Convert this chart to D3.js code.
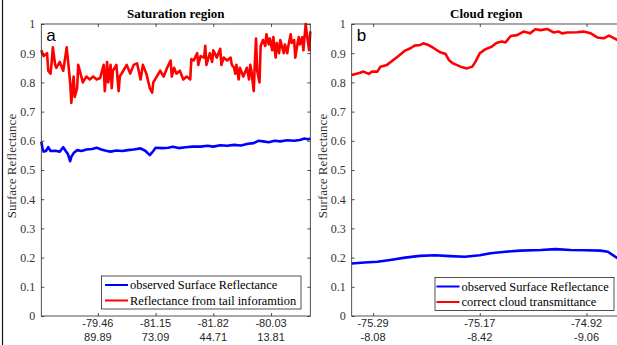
<!DOCTYPE html>
<html>
<head>
<meta charset="utf-8">
<script src="https://cdn.jsdelivr.net/npm/d3@7/dist/d3.min.js"></script>
<style>
  body { margin: 0; background: #fff; }
  svg { display: block; }
</style>
</head>
<body>
<svg id="chart" width="617" height="345"></svg>
<script>
const yTicks = [0, 0.1, 0.2, 0.3, 0.4, 0.5, 0.6, 0.7, 0.8, 0.9, 1];

// saturation region (panel a)
const satTickPos = [50, 100, 150, 200];
const satTickLon = ["-79.46", "-81.15", "-81.82", "-80.03"];
const satTickLat = ["89.89", "73.09", "44.71", "13.81"];

const satRedX = [1, 3, 6, 7, 9, 10, 11, 13, 14, 17, 20, 23, 24, 26, 27, 29, 30, 32, 33, 35,
  37, 40, 43, 46, 49, 52, 55, 56, 58, 59, 61, 62, 63, 66, 68, 69, 72, 75, 78, 81,
  84, 87, 89, 92, 95, 97, 98, 101, 104, 107, 110, 113, 114, 116, 118, 121, 124, 127, 130, 131,
  133, 136, 137, 139, 142, 143, 144, 147, 149, 150, 153, 156, 157, 159, 162, 165, 166, 168, 169, 170,
  172, 173, 176, 179, 181, 182, 183, 185, 186, 187, 188, 190, 191, 193, 195, 196, 198, 199, 201, 202,
  204, 205, 207, 208, 210, 211, 212, 214, 215, 217, 218, 220, 221, 223, 224, 225, 227, 228, 230, 231,
  233, 234];
const satRed = [0.91, 0.89, 0.9, 0.84, 0.83, 0.87, 0.92, 0.86, 0.85, 0.87, 0.84, 0.92, 0.88, 0.8, 0.73, 0.82, 0.75, 0.78, 0.86, 0.83,
  0.8, 0.82, 0.81, 0.82, 0.81, 0.815, 0.86, 0.77, 0.87, 0.8, 0.86, 0.78, 0.84, 0.86, 0.77, 0.82, 0.84, 0.86, 0.83, 0.86,
  0.865, 0.81, 0.86, 0.83, 0.78, 0.765, 0.8, 0.82, 0.84, 0.82, 0.85, 0.875, 0.82, 0.85, 0.83, 0.84, 0.81, 0.82, 0.81, 0.88,
  0.875, 0.9, 0.86, 0.89, 0.885, 0.925, 0.86, 0.9, 0.87, 0.91, 0.885, 0.915, 0.86, 0.885, 0.875, 0.885, 0.86, 0.85, 0.83, 0.86,
  0.81, 0.85, 0.82, 0.85, 0.81, 0.86, 0.84, 0.77, 0.87, 0.95, 0.84, 0.8, 0.925, 0.945, 0.925, 0.965, 0.93, 0.95, 0.91, 0.955,
  0.885, 0.935, 0.9, 0.945, 0.915, 0.9, 0.93, 0.9, 0.925, 0.965, 0.935, 0.945, 0.885, 0.935, 0.955, 0.93, 0.955, 0.91, 1.0, 0.965,
  0.91, 0.975];

const satBlueX = [1, 2, 3, 5, 7, 9, 13, 17, 20, 22, 24, 26, 27, 29, 32, 36, 40, 45, 49, 53,
  57, 61, 66, 71, 76, 81, 87, 91, 95, 98, 100, 106, 111, 115, 120, 126, 132, 139, 145, 150,
  156, 162, 168, 174, 180, 185, 189, 193, 198, 203, 208, 214, 220, 225, 229, 232, 234];
const satBlue = [0.597, 0.575, 0.563, 0.565, 0.578, 0.565, 0.566, 0.563, 0.578, 0.566, 0.555, 0.53, 0.545, 0.558, 0.568, 0.565, 0.57, 0.572, 0.576, 0.57,
  0.566, 0.563, 0.567, 0.565, 0.568, 0.57, 0.574, 0.566, 0.551, 0.565, 0.576, 0.575, 0.576, 0.58, 0.575, 0.578, 0.58, 0.58, 0.583, 0.58,
  0.585, 0.583, 0.586, 0.584, 0.59, 0.592, 0.6, 0.598, 0.595, 0.6, 0.598, 0.602, 0.6, 0.603, 0.608, 0.605, 0.607];

// cloud region (panel b)
const cloudTickPos = [20, 120, 220];
const cloudTickLon = ["-75.29", "-75.17", "-74.92"];
const cloudTickLat = ["-8.08", "-8.42", "-9.06"];

const cloudRedX = [0, 8, 11, 16, 19, 24, 27, 33, 39, 45, 50, 55, 59, 64, 67, 72, 77, 83, 88, 91,
  95, 102, 108, 113, 116, 120, 125, 131, 136, 141, 144, 149, 155, 161, 167, 172, 177, 183, 189, 194,
  197, 202, 211, 217, 224, 230, 236, 241, 246, 249, 252];
const cloudRed = [0.825, 0.833, 0.837, 0.829, 0.837, 0.837, 0.854, 0.86, 0.877, 0.894, 0.909, 0.917, 0.926, 0.928, 0.934, 0.928, 0.917, 0.903, 0.897, 0.877,
  0.865, 0.854, 0.848, 0.854, 0.871, 0.9, 0.913, 0.922, 0.936, 0.94, 0.937, 0.959, 0.962, 0.974, 0.968, 0.982, 0.979, 0.983, 0.971, 0.974,
  0.968, 0.971, 0.972, 0.974, 0.968, 0.954, 0.951, 0.96, 0.951, 0.945, 0.943];

const cloudBlueX = [0, 12, 24, 36, 50, 64, 78, 92, 106, 120, 130, 144, 158, 177, 191, 205, 219, 233, 240, 244,
  249, 252];
const cloudBlue = [0.18, 0.183, 0.186, 0.192, 0.2, 0.206, 0.208, 0.205, 0.203, 0.208, 0.215, 0.22, 0.224, 0.226, 0.229, 0.226, 0.225, 0.224, 0.22, 0.21,
  0.198, 0.192];

const svg = d3.select("#chart");
const serif = "'Liberation Serif', 'Times New Roman', serif";
const sans = "'Liberation Sans', Arial, sans-serif";
const axisColor = "#262626";
const plotW = 269;
const plotTop = 24;
const plotBottom = 316;

// thin frame line at the very left of the figure
svg
  .append("line")
  .attr("x1", 2.5)
  .attr("x2", 2.5)
  .attr("y1", 0)
  .attr("y2", 345)
  .attr("stroke", "#111")
  .attr("stroke-width", 1.2);

function drawPanel(opt) {
  const x = d3
    .scaleLinear()
    .domain(opt.domain)
    .range([opt.left, opt.left + plotW]);
  const y = d3.scaleLinear().domain([0, 1]).range([plotBottom, plotTop]);

  const g = svg.append("g");

  const line = d3
    .line()
    .x((d) => x(d[0]))
    .y((d) => y(d[1]));

  g.append("path")
    .attr("d", line(d3.zip(opt.blueX, opt.blue)))
    .attr("fill", "none")
    .attr("stroke", "#0000ff")
    .attr("stroke-width", 2.6)
    .attr("stroke-linejoin", "round");

  g.append("path")
    .attr("d", line(d3.zip(opt.redX, opt.red)))
    .attr("fill", "none")
    .attr("stroke", "#ff0000")
    .attr("stroke-width", 2.6)
    .attr("stroke-linejoin", "round");

  // box
  g.append("rect")
    .attr("x", opt.left)
    .attr("y", plotTop)
    .attr("width", plotW)
    .attr("height", plotBottom - plotTop)
    .attr("fill", "none")
    .attr("stroke", axisColor)
    .attr("stroke-width", 0.8);

  // left axis with labels
  const yAxis = g
    .append("g")
    .attr("transform", `translate(${opt.left},0)`)
    .call(
      d3.axisLeft(y).tickValues(yTicks).tickSizeInner(-3).tickSizeOuter(0)
        .tickPadding(6).tickFormat(d3.format("~g"))
    );
  yAxis.select(".domain").remove();
  yAxis.selectAll("line").attr("stroke", axisColor).attr("stroke-width", 0.8);
  yAxis.selectAll("text")
    .attr("font-family", serif)
    .attr("font-size", 12)
    .attr("fill", "#333");

  // right ticks
  const yAxisR = g
    .append("g")
    .attr("transform", `translate(${opt.left + plotW},0)`)
    .call(d3.axisRight(y).tickValues(yTicks).tickSizeInner(-3).tickSizeOuter(0).tickFormat(""));
  yAxisR.select(".domain").remove();
  yAxisR.selectAll("line").attr("stroke", axisColor).attr("stroke-width", 0.8);

  // top ticks
  const xAxisT = g
    .append("g")
    .attr("transform", `translate(0,${plotTop})`)
    .call(d3.axisTop(x).tickValues(opt.tickPos).tickSizeInner(-3).tickSizeOuter(0).tickFormat(""));
  xAxisT.select(".domain").remove();
  xAxisT.selectAll("line").attr("stroke", axisColor).attr("stroke-width", 0.8);

  // bottom ticks with two-line labels
  const xAxis = g
    .append("g")
    .attr("transform", `translate(0,${plotBottom})`)
    .call(d3.axisBottom(x).tickValues(opt.tickPos).tickSizeInner(-3).tickSizeOuter(0).tickFormat(""));
  xAxis.select(".domain").remove();
  xAxis.selectAll("line").attr("stroke", axisColor).attr("stroke-width", 0.8);

  const lab = g
    .append("g")
    .selectAll("text")
    .data(opt.tickPos)
    .join("text")
    .attr("text-anchor", "middle")
    .attr("font-family", sans)
    .attr("font-size", 11)
    .attr("fill", "#262626");
  lab.append("tspan")
    .attr("x", (d) => x(d))
    .attr("y", 327)
    .text((d, i) => opt.lon[i]);
  lab.append("tspan")
    .attr("x", (d) => x(d))
    .attr("y", 341)
    .text((d, i) => opt.lat[i]);

  // title
  g.append("text")
    .attr("x", opt.left + plotW / 2)
    .attr("y", 18)
    .attr("text-anchor", "middle")
    .attr("font-family", serif)
    .attr("font-weight", "bold")
    .attr("font-size", 13)
    .attr("fill", "#000")
    .text(opt.title);

  // y label
  g.append("text")
    .attr("transform", `translate(${opt.left - 25},${(plotTop + plotBottom) / 2 - 4}) rotate(-90)`)
    .attr("text-anchor", "middle")
    .attr("font-family", serif)
    .attr("font-size", 13)
    .attr("fill", "#333")
    .text("Surface Reflectance");

  // panel letter
  g.append("text")
    .attr("x", opt.left + 5)
    .attr("y", 41)
    .attr("font-family", sans)
    .attr("font-size", 17)
    .attr("fill", "#000")
    .text(opt.letter);

  // legend
  const lg = g.append("g");
  lg.append("rect")
    .attr("x", opt.legend.x)
    .attr("y", opt.legend.y)
    .attr("width", opt.legend.w)
    .attr("height", 33)
    .attr("fill", "#fff")
    .attr("stroke", axisColor)
    .attr("stroke-width", 0.8);
  const items = [
    { label: opt.legendLabels[0], color: "#0000ff" },
    { label: opt.legendLabels[1], color: "#ff0000" },
  ];
  items.forEach((it, i) => {
    const cy = opt.legend.y + 9 + i * 15.5;
    lg.append("line")
      .attr("x1", opt.legend.x + opt.legend.pad)
      .attr("x2", opt.legend.x + opt.legend.pad + 23)
      .attr("y1", cy)
      .attr("y2", cy)
      .attr("stroke", it.color)
      .attr("stroke-width", 2);
    lg.append("text")
      .attr("x", opt.legend.x + opt.legend.pad + 25)
      .attr("y", cy + 4)
      .attr("font-family", serif)
      .attr("font-size", 12.4)
      .attr("fill", "#000")
      .text(it.label);
  });
}

drawPanel({
  left: 41.3,
  domain: [1, 234],
  title: "Saturation region",
  letter: "a",
  tickPos: satTickPos,
  lon: satTickLon,
  lat: satTickLat,
  redX: satRedX,
  red: satRed,
  blueX: satBlueX,
  blue: satBlue,
  legend: { x: 101.5, y: 276, w: 199.5, pad: 3.5 },
  legendLabels: ["observed Surface Reflectance", "Reflectance from tail inforamtion"],
});

drawPanel({
  left: 351.7,
  domain: [0, 252],
  title: "Cloud region",
  letter: "b",
  tickPos: cloudTickPos,
  lon: cloudTickLon,
  lat: cloudTickLat,
  redX: cloudRedX,
  red: cloudRed,
  blueX: cloudBlueX,
  blue: cloudBlue,
  legend: { x: 435, y: 277.5, w: 179, pad: 1.5 },
  legendLabels: ["observed Surface Reflectance", "correct cloud transmittance"],
});
</script>
</body>
</html>
